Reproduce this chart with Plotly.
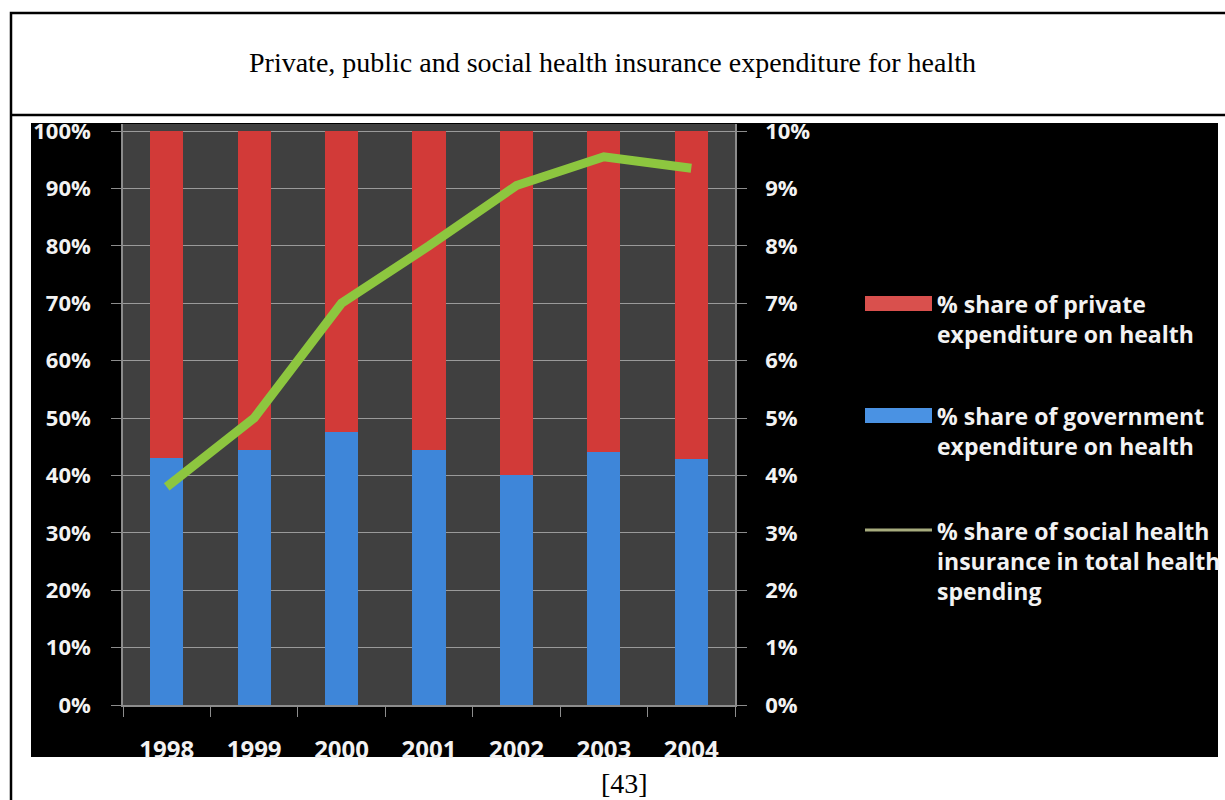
import plotly.graph_objects as go
from plotly.subplots import make_subplots

# ---- data ----
years = ["1998", "1999", "2000", "2001", "2002", "2003", "2004"]
gov_share = [43.1, 44.5, 47.6, 44.5, 40.0, 44.0, 42.8]          # % share of government expenditure
private_share = [56.9, 55.5, 52.4, 55.5, 60.0, 56.0, 57.2]      # % share of private expenditure
shi_share = [3.8, 5.0, 7.0, 8.0, 9.05, 9.55, 9.35]              # % social health insurance (right axis)
series_names = [
    "% share of private<br>expenditure on health",
    "% share of government<br>expenditure on health",
    "% share of social health<br>insurance in total health<br>spending",
]
left_ticks = [0, 10, 20, 30, 40, 50, 60, 70, 80, 90, 100]
left_tick_labels = ["0%", "10%", "20%", "30%", "40%", "50%", "60%", "70%", "80%", "90%", "100%"]
right_ticks = [0, 1, 2, 3, 4, 5, 6, 7, 8, 9, 10]
right_tick_labels = ["0%", "1%", "2%", "3%", "4%", "5%", "6%", "7%", "8%", "9%", "10%"]
title_text = "Private, public and social health insurance expenditure for health"
caption_text = "[43]"

W, H = 1225, 800
def px(x):
    return x / W
def py(y):
    return 1 - y / H

RED = "#D23A38"
BLUE = "#3E86D9"
GREEN = "#8DC63F"
TICKFONT = dict(family="Open Sans", size=22, color="#F2F2F2", weight="bold")
XTICKFONT = dict(family="Open Sans", size=24, color="#F2F2F2", weight="bold")

fig = make_subplots(specs=[[{"secondary_y": True}]])

fig.add_trace(go.Bar(x=years, y=gov_share, name=series_names[1], marker=dict(color=BLUE, line=dict(width=0)),
                     showlegend=False), secondary_y=False)
fig.add_trace(go.Bar(x=years, y=private_share, name=series_names[0], marker=dict(color=RED, line=dict(width=0)),
                     showlegend=False), secondary_y=False)
fig.add_trace(go.Scatter(x=years, y=shi_share, name=series_names[2], mode="lines",
                         line=dict(color=GREEN, width=9), showlegend=False), secondary_y=True)

shapes = [
    # outer frame
    dict(type="rect", xref="paper", yref="paper", x0=px(11), x1=px(1240), y0=py(13), y1=py(830),
         line=dict(color="black", width=2.5), fillcolor="rgba(0,0,0,0)", layer="below"),
    dict(type="line", xref="paper", yref="paper", x0=px(11), x1=px(1240), y0=py(115), y1=py(115),
         line=dict(color="black", width=2.5), layer="below"),
    # black chart area
    dict(type="rect", xref="paper", yref="paper", x0=px(31), x1=px(1218), y0=py(123), y1=py(757),
         line=dict(width=0), fillcolor="black", layer="below"),
    # gray plot area
    dict(type="rect", xref="paper", yref="paper", x0=px(123), x1=px(735), y0=py(124), y1=py(705),
         line=dict(width=0), fillcolor="#404040", layer="below"),
    # legend swatches
    dict(type="rect", xref="paper", yref="paper", x0=px(865), x1=px(932), y0=py(296), y1=py(311),
         line=dict(width=0), fillcolor="#D9504D", layer="above"),
    dict(type="rect", xref="paper", yref="paper", x0=px(865), x1=px(932), y0=py(408), y1=py(423),
         line=dict(width=0), fillcolor="#4A92E3", layer="above"),
    dict(type="line", xref="paper", yref="paper", x0=px(865), x1=px(932), y0=py(530), y1=py(530),
         line=dict(color="#A7AC7E", width=3), layer="above"),
]

annotations = [
    dict(text=title_text, xref="paper", yref="paper", x=px(612), y=py(63), showarrow=False,
         xanchor="center", yanchor="middle", font=dict(family="Liberation Serif", size=28, color="black")),
    dict(text=caption_text, xref="paper", yref="paper", x=px(624), y=py(783), showarrow=False,
         xanchor="center", yanchor="middle", font=dict(family="Liberation Serif", size=28, color="black")),
]
legend_y = [286, 398, 513]
for name, yy in zip(series_names, legend_y):
    annotations.append(dict(text=name, xref="paper", yref="paper", x=px(935), y=py(yy), showarrow=False,
                            xanchor="left", yanchor="top", align="left",
                            font=dict(family="Open Sans", size=23, color="#F2F2F2", weight="bold")))

fig.update_layout(
    width=W, height=H,
    autosize=False,
    margin=dict(l=0, r=0, t=0, b=0, pad=0),
    paper_bgcolor="white",
    plot_bgcolor="rgba(0,0,0,0)",
    barmode="stack",
    bargap=0.62,
    shapes=shapes,
    annotations=annotations,
    showlegend=False,
)

fig.update_xaxes(domain=[px(123), px(735)], automargin=False, showline=True, linecolor="#8C8C8C", linewidth=1.5,
                 ticks="outside", tickson="boundaries", ticklen=10, tickcolor="#8C8C8C",
                 tickfont=XTICKFONT, ticklabelstandoff=22, showgrid=False, zeroline=False)
fig.update_yaxes(domain=[py(705), py(124)], automargin=False, range=[0, 101.22],
                 tickmode="array", tickvals=left_ticks, ticktext=left_tick_labels,
                 showline=True, linecolor="#8C8C8C", linewidth=1.5, ticks="outside", ticklen=10,
                 tickcolor="#8C8C8C", showgrid=True, gridcolor="#9A9A9A", gridwidth=1.2,
                 tickfont=TICKFONT, ticklabelstandoff=16, zeroline=False, secondary_y=False)
fig.update_yaxes(automargin=False, range=[0, 10.122], tickmode="array", tickvals=right_ticks,
                 ticktext=right_tick_labels,
                 showline=True, linecolor="#8C8C8C", linewidth=1.5, ticks="outside", ticklen=10,
                 tickcolor="#8C8C8C", showgrid=False, tickfont=TICKFONT, ticklabelstandoff=14,
                 zeroline=False, secondary_y=True)

fig.write_html("out.html", config={"displayModeBar": False, "responsive": False},
               post_script="document.body.style.margin='0';")
